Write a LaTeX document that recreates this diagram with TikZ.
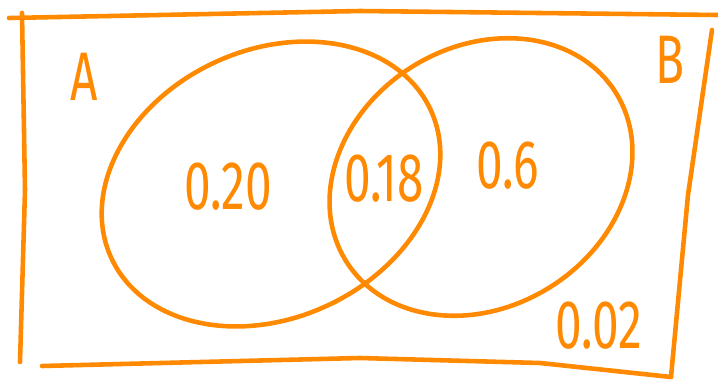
\documentclass[tikz,border=0pt]{standalone}
\usepackage{fontspec}
\newfontfamily\handfont{Fira Sans}
\usetikzlibrary{positioning}
\definecolor{marker}{RGB}{255,137,0}
\newcommand{\handtext}[1]{\scalebox{0.8}[1.15]{#1}}

\begin{document}
\begin{tikzpicture}[x=0.02cm, y=-0.02cm, line width=2.6pt, line cap=round, line join=round]
        \tikzset{pen/.style={draw=marker}, tag/.style={text=marker, font=\handfont\fontsize{34}{40}\selectfont, inner sep=0pt}}
        \useasboundingbox (0,0) rectangle (718,382);
        % sample space
        \draw[pen] (9,18) -- (360,11) -- (718,15);
        \draw[pen] (22,13) -- (25,190) -- (20,362);
        \draw[pen] (42,366) -- (360,358) -- (540,363) -- (671,377);
        \draw[pen] (712,30) -- (688,195) -- (671,377);
        % events
        \draw[pen, rotate around={25:(271,184)}] (271,184) ellipse [x radius=176, y radius=134];
        \draw[pen, rotate around={32:(481,177)}] (481,177) ellipse [x radius=159, y radius=130];
        \node[tag] (labA) at (84,77) {\handtext{A}};
        \node[tag] (labB) at (670,60) {\handtext{B}};
        \node[tag] (onlyA) at (228,187) {\handtext{0.20}};
        \node[tag] (both) at (384,179) {\handtext{0.18}};
        \node[tag] (onlyB) at (508,166) {\handtext{0.6}};
        \node[tag] (none) at (599,326) {\handtext{0.02}};
\end{tikzpicture}
\end{document}
